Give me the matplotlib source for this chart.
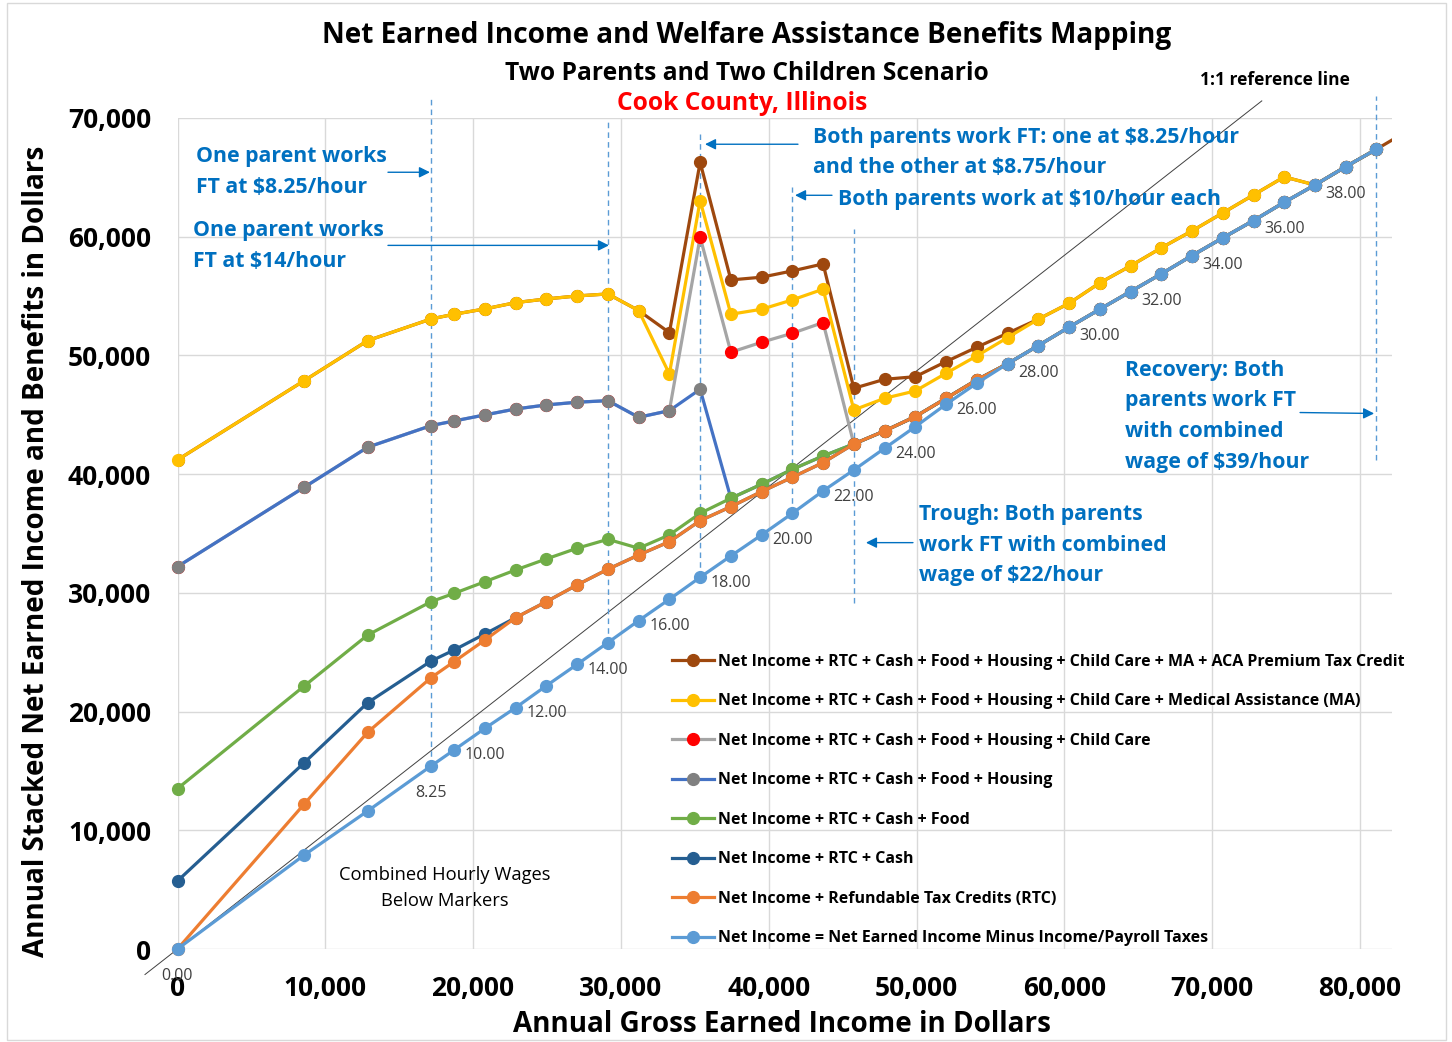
import matplotlib
matplotlib.use("Agg")
import matplotlib.pyplot as plt
from matplotlib.lines import Line2D
from matplotlib.patches import Rectangle
from matplotlib.ticker import FuncFormatter

plt.rcParams['font.family'] = ['Open Sans', 'DejaVu Sans']

# Combined hourly wage of the household (x position = wage * 2080 hours)
HOURS = 2080
wages = [0, 4.125, 6.1875, 8.25, 9, 10, 11, 12, 13, 14, 15, 16, 17, 18, 19, 20, 21, 22,
         23, 24, 25, 26, 27, 28, 29, 30, 31, 32, 33, 34, 35, 36, 37, 38, 39]
wages_aca = wages + [40]

net_income = [0, 7920, 11630, 15420, 16770, 18590, 20330, 22180, 23980, 25810, 27660, 29460,
              31310, 33110, 34880, 36700, 38590, 40350, 42180, 44000, 45890, 47660, 49300,
              50830, 52380, 53890, 55380, 56870, 58410, 59900, 61360, 62900, 64360, 65900, 67370]
rtc = [0, 12220, 18260, 22860, 24210, 26030, 27910, 29260, 30670, 31990, 33190, 34310,
       36080, 37260, 38530, 39740, 40970, 42540, 43640, 44850, 46390, 47940, 49300,
       50830, 52380, 53890, 55380, 56870, 58410, 59900, 61360, 62900, 64360, 65900, 67370]
cash = [5730, 15700, 20750, 24260, 25190, 26540, 27910, 29260, 30670, 31990, 33190, 34310,
        36080, 37260, 38530, 39740, 40970, 42540, 43640, 44850, 46390, 47940, 49300,
        50830, 52380, 53890, 55380, 56870, 58410, 59900, 61360, 62900, 64360, 65900, 67370]
food = [13510, 22160, 26450, 29260, 29960, 30940, 31930, 32860, 33760, 34510, 33760, 34880,
        36700, 37970, 39150, 40410, 41530, 42540, 43640, 44850, 46390, 47940, 49300,
        50830, 52380, 53890, 55380, 56870, 58410, 59900, 61360, 62900, 64360, 65900, 67370]
housing = [32210, 38900, 42270, 44090, 44480, 44990, 45490, 45830, 46060, 46190, 44790, 45350,
           47150, 37970, 39150, 40410, 41530, 42540, 43640, 44850, 46390, 47940, 49300,
           50830, 52380, 53890, 55380, 56870, 58410, 59900, 61360, 62900, 64360, 65900, 67370]
child_care = [32210, 38900, 42270, 44090, 44480, 44990, 45490, 45830, 46060, 46190, 44790, 45350,
              59960, 50270, 51110, 51870, 52770, 42540, 43640, 44850, 46390, 47940, 49300,
              50830, 52380, 53890, 55380, 56870, 58410, 59900, 61360, 62900, 64360, 65900, 67370]
medical = [41200, 47880, 51250, 53075, 53470, 53920, 54450, 54760, 55010, 55180, 53780, 48440,
           63040, 53470, 53890, 54680, 55580, 45410, 46390, 47010, 48500, 49960, 51500,
           53050, 54390, 56110, 57540, 59060, 60490, 62000, 63520, 65040, 64360, 65900, 67370]
aca = [41200, 47880, 51250, 53075, 53470, 53920, 54450, 54760, 55010, 55180, 53780, 51920,
       66270, 56360, 56590, 57120, 57710, 47230, 47990, 48210, 49480, 50690, 51870,
       53050, 54390, 56110, 57540, 59060, 60490, 62000, 63520, 65040, 64360, 65900, 67370, 68900]

labels = ["Net Income + RTC + Cash + Food + Housing + Child Care + MA + ACA Premium Tax Credit",
          "Net Income + RTC + Cash + Food + Housing + Child Care + Medical Assistance (MA)",
          "Net Income + RTC + Cash + Food + Housing + Child Care",
          "Net Income + RTC + Cash + Food + Housing",
          "Net Income + RTC + Cash + Food",
          "Net Income + RTC + Cash",
          "Net Income + Refundable Tax Credits (RTC)",
          "Net Income = Net Earned Income Minus Income/Payroll Taxes"]

# wage markers (dashed guides): wage, top, bottom
guide_wages = [8.25, 14, 17, 20, 22, 39]
guide_top = [71600, 69640, 68630, 64170, 60620, 71840]
guide_bottom = [15420, 25810, 31310, 36700, 29170, 41230]

labelled_wages = [0, 8.25, 10, 12, 14, 16, 18, 20, 22, 24, 26, 28, 30, 32, 34, 36, 38]

ref_x = [-2200, 73360]
ref_y = [-2150, 71440]

W, H = 1452, 1042
fig = plt.figure(figsize=(W / 100, H / 100), dpi=100)
ax = fig.add_axes([177.5 / W, 1 - 949 / H, (1392 - 177.5) / W, (949 - 118) / H])

def fx(px):
    return px / W

def fy(py):
    return 1 - py / H

blue_txt = '#0070C0'

# thin 1:1 reference line
ax.plot(ref_x, ref_y, color='#404040', lw=0.7, clip_on=False, zorder=2)

# dashed guides at key wages
for w, t, b in zip(guide_wages, guide_top, guide_bottom):
    ax.plot([w * HOURS, w * HOURS], [b, t], color='#5B9BD5', lw=1,
            ls=(0, (4, 3)), clip_on=False, zorder=2)

series = [
    (wages_aca, aca, '#9E480E', '#9E480E'),
    (wages, medical, '#FFC000', '#FFC000'),
    (wages, child_care, '#A5A5A5', '#FF0000'),
    (wages, housing, '#4472C4', '#808080'),
    (wages, food, '#70AD47', '#70AD47'),
    (wages, cash, '#255E91', '#255E91'),
    (wages, rtc, '#ED7D31', '#ED7D31'),
    (wages, net_income, '#5B9BD5', '#5B9BD5'),
]
handles = []
for i, (ws, vals, lc, mc) in enumerate(series):
    xs = [w * HOURS for w in ws]
    ax.plot(xs, vals, color=lc, lw=2.3, marker='o', ms=8.5, mfc=mc, mec=mc,
            clip_on=(i == 0), zorder=3 + i)
    handles.append(Line2D([], [], color=lc, lw=2.3, marker='o', ms=8.5, mfc=mc, mec=mc))

# hourly wage labels under net income markers
for w, v in zip(wages, net_income):
    if w in labelled_wages:
        ax.annotate(f"{w:.2f}", (w * HOURS, v), xytext=(0, -19.5), textcoords='offset points',
                    ha='center', va='center', fontsize=11.5, color='#404040', zorder=20)

ax.set_xlim(0, 82170)
ax.set_ylim(0, 70000)
ax.set_xticks(range(0, 80001, 10000))
ax.set_yticks(range(0, 70001, 10000))
fmt = FuncFormatter(lambda v, p: f"{int(v):,}")
ax.xaxis.set_major_formatter(fmt)
ax.yaxis.set_major_formatter(fmt)
ax.tick_params(length=0, labelsize=19)
ax.tick_params(axis='y', pad=19)
ax.tick_params(axis='x', pad=19)
for t in ax.get_xticklabels() + ax.get_yticklabels():
    t.set_fontweight('bold')
ax.grid(True, color='#D9D9D9', lw=1)
ax.set_axisbelow(True)
for s in ax.spines.values():
    s.set_visible(False)

# annotations
def note(text, x, y, **kw):
    ax.text(x, y, text, color=blue_txt, fontsize=15.3, fontweight='bold', ha='left',
            va='center', linespacing=1.6, zorder=20, **kw)

def arrow(x0, y0, x1, y1):
    ax.annotate('', xy=(x1, y1), xytext=(x0, y0), zorder=20, annotation_clip=False,
                arrowprops=dict(arrowstyle='-|>', color=blue_txt, lw=1, mutation_scale=16,
                                shrinkA=0, shrinkB=0))

note("One parent works\nFT at $8.25/hour", 1250, 65470)
arrow(14240, 65430, 17080, 65430)
note("One parent works\nFT at $14/hour", 1050, 59240)
arrow(14240, 59270, 29190, 59270)
note("Both parents work FT: one at $8.25/hour\nand the other at $8.75/hour", 43000, 67080)
arrow(41980, 67790, 35690, 67790)
note("Both parents work at $10/hour each", 44690, 63150)
arrow(44280, 63490, 41780, 63490)
note("Recovery: Both\nparents work FT\nwith combined\nwage of $39/hour", 64110, 44880)
arrow(75950, 45190, 80960, 45110)
note("Trough: Both parents\nwork FT with combined\nwage of $22/hour", 50170, 34030)
arrow(49760, 34230, 46580, 34230)
ax.text(18100, 5140, "Combined Hourly Wages\nBelow Markers", fontsize=13.2, color='black',
        ha='center', va='center', linespacing=1.55, zorder=20)

# titles and axis labels
fig.text(fx(747), fy(35), "Net Earned Income and Welfare Assistance Benefits Mapping",
         fontsize=20.2, fontweight='bold', ha='center', va='center')
fig.text(fx(747), fy(73), "Two Parents and Two Children Scenario",
         fontsize=17.7, fontweight='bold', ha='center', va='center')
fig.text(fx(742), fy(104), "Cook County, Illinois", fontsize=17.7, fontweight='bold',
         color='#FF0000', ha='center', va='center')
fig.text(fx(1275), fy(80), "1:1 reference line", fontsize=12.5, fontweight='bold',
         ha='center', va='center')
fig.text(fx(37), fy(551), "Annual Stacked Net Earned Income and Benefits in Dollars",
         fontsize=20.1, fontweight='bold', rotation=90, ha='center', va='center')
fig.text(fx(782), fy(1024), "Annual Gross Earned Income in Dollars",
         fontsize=20.1, fontweight='bold', ha='center', va='center')

leg = fig.legend(handles, labels, loc='upper left', bbox_to_anchor=(fx(672), fy(654)),
                 bbox_transform=fig.transFigure, frameon=False,
                 prop={'weight': 'bold', 'size': 11.5}, handlelength=2.6, handletextpad=0.3,
                 labelspacing=1.47, borderpad=0, borderaxespad=0)

fig.patches.append(Rectangle((fx(7), fy(1040)), fx(1446) - fx(7), fy(3) - fy(1040),
                             transform=fig.transFigure, fill=False, ec='#D9D9D9', lw=1))

fig.savefig("out.png", dpi=100)
